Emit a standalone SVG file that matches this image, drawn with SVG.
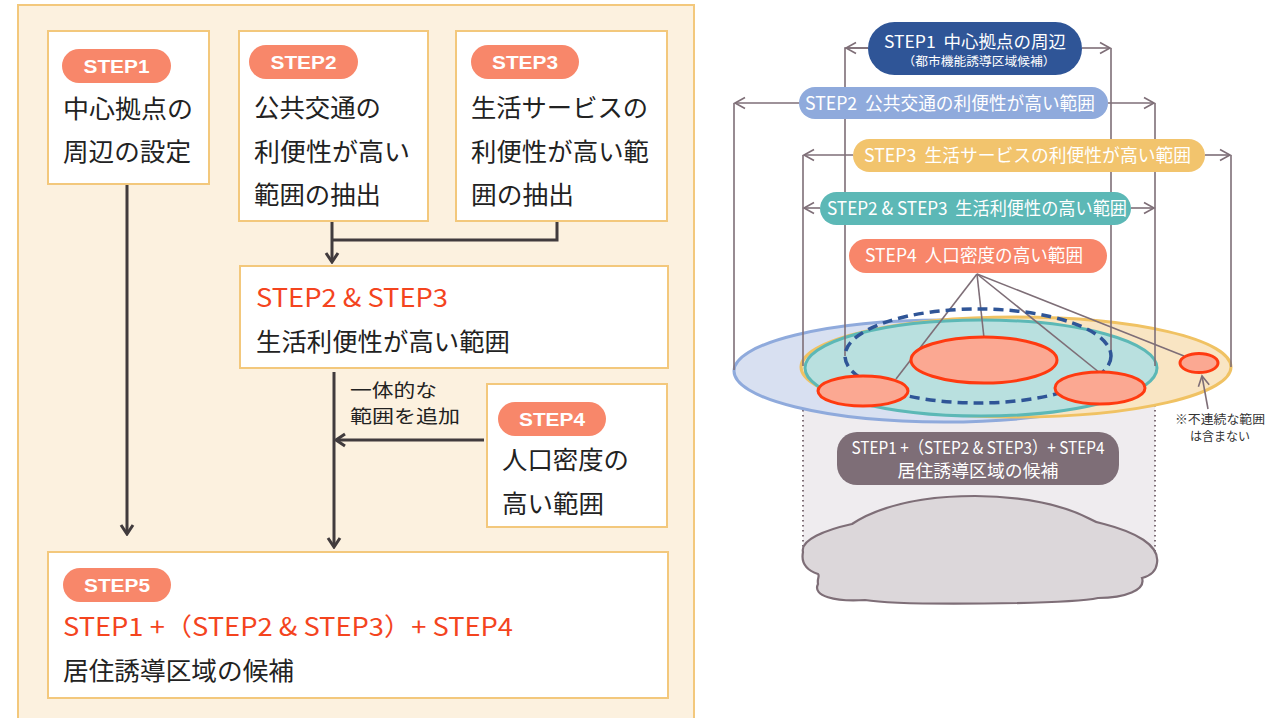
<svg xmlns="http://www.w3.org/2000/svg" width="1280" height="718" viewBox="0 0 1280 718">
  <defs>
    <style>
      .jp { font-family: "Noto Sans CJK JP", "Noto Sans", sans-serif; }
      .box { fill: #ffffff; stroke: #F3C87C; stroke-width: 2; }
      .pill { fill: #F8876A; }
      .pilltxt { font-family: "Liberation Sans", Arial, sans-serif; font-weight: bold; font-size: 19px; fill: #ffffff; text-anchor: middle; }
      .body { font-family: "Noto Sans CJK JP", sans-serif; font-size: 25px; fill: #222222; }
      .red { font-family: "Noto Sans CJK JP", sans-serif; font-size: 25px; fill: #F4441E; }
      .flow { fill: none; stroke: #413B3D; stroke-width: 3; }
      .bracket { fill: none; stroke: #7E6E77; stroke-width: 1.6; }
      .dots { fill: none; stroke: #7E6E77; stroke-width: 2; stroke-dasharray: 1.5 3.5; }
      .ptxt { font-family: "Noto Sans CJK JP", sans-serif; fill: #ffffff; }
      .area { stroke-width: 3; }
      .hot { fill: #FBA892; stroke: #FF3A10; stroke-width: 3; }
    </style>
    <marker id="headL" viewBox="-12 -8 14 16" refX="0" refY="0" markerWidth="14" markerHeight="16" markerUnits="userSpaceOnUse" orient="auto">
      <path d="M-9,-6 L0,0 L-9,6" fill="none" stroke="#413B3D" stroke-width="3"/>
    </marker>
    <marker id="headR" viewBox="-12 -8 14 16" refX="0" refY="0" markerWidth="14" markerHeight="16" markerUnits="userSpaceOnUse" orient="auto">
      <path d="M-10,-5.5 L0,0 L-10,5.5" fill="none" stroke="#7E6E77" stroke-width="1.6"/>
    </marker>
  </defs>

  <rect width="1280" height="718" fill="#ffffff"/>

  <!-- ===== Left: step flow ===== -->
  <rect id="panel" x="18" y="5" width="676" height="720" fill="#FCF1DF" stroke="#F3C87C" stroke-width="2"/>

  <g id="connectors-flow">
    <line class="flow" x1="127" y1="184" x2="127" y2="534" marker-end="url(#headL)"/>
    <polyline class="flow" points="557,221 557,240 332,240"/>
    <line class="flow" x1="332" y1="221" x2="332" y2="262" marker-end="url(#headL)"/>
    <line class="flow" x1="334" y1="372" x2="334" y2="547" marker-end="url(#headL)"/>
    <line class="flow" x1="484" y1="440" x2="336" y2="440" marker-end="url(#headL)"/>
    <text class="jp" x="350" y="397" font-size="18" fill="#222" textLength="87" lengthAdjust="spacingAndGlyphs">一体的な</text>
    <text class="jp" x="350" y="423" font-size="18" fill="#222" textLength="110" lengthAdjust="spacingAndGlyphs">範囲を追加</text>
  </g>

  <g id="step1">
    <rect class="box" x="48" y="31" width="161" height="153"/>
    <rect class="pill" x="62" y="49" width="109" height="34" rx="17"/>
    <text class="pilltxt" x="116.5" y="73" textLength="66" lengthAdjust="spacingAndGlyphs">STEP1</text>
    <text class="body" x="63" y="118" textLength="130" lengthAdjust="spacingAndGlyphs">中心拠点の</text>
    <text class="body" x="63" y="161" textLength="128" lengthAdjust="spacingAndGlyphs">周辺の設定</text>
  </g>

  <g id="step2">
    <rect class="box" x="239" y="31" width="189" height="190"/>
    <rect class="pill" x="249" y="45" width="109" height="34" rx="17"/>
    <text class="pilltxt" x="303.5" y="69" textLength="66" lengthAdjust="spacingAndGlyphs">STEP2</text>
    <text class="body" x="254" y="117" textLength="127" lengthAdjust="spacingAndGlyphs">公共交通の</text>
    <text class="body" x="254" y="161" textLength="156" lengthAdjust="spacingAndGlyphs">利便性が高い</text>
    <text class="body" x="254" y="204" textLength="127" lengthAdjust="spacingAndGlyphs">範囲の抽出</text>
  </g>

  <g id="step3">
    <rect class="box" x="456" y="31" width="211" height="190"/>
    <rect class="pill" x="471" y="45" width="108" height="34" rx="17"/>
    <text class="pilltxt" x="525" y="69" textLength="66" lengthAdjust="spacingAndGlyphs">STEP3</text>
    <text class="body" x="471" y="117" textLength="177" lengthAdjust="spacingAndGlyphs">生活サービスの</text>
    <text class="body" x="471" y="161" textLength="178" lengthAdjust="spacingAndGlyphs">利便性が高い範</text>
    <text class="body" x="471" y="204" textLength="103" lengthAdjust="spacingAndGlyphs">囲の抽出</text>
  </g>

  <g id="step23">
    <rect class="box" x="240" y="266" width="428" height="102"/>
    <text class="red" x="256" y="307" textLength="192" lengthAdjust="spacingAndGlyphs">STEP2 &amp; STEP3</text>
    <text class="body" x="256" y="351" textLength="254" lengthAdjust="spacingAndGlyphs">生活利便性が高い範囲</text>
  </g>

  <g id="step4">
    <rect class="box" x="487" y="384" width="180" height="143"/>
    <rect class="pill" x="498" y="402" width="108" height="34" rx="17"/>
    <text class="pilltxt" x="552" y="426" textLength="66" lengthAdjust="spacingAndGlyphs">STEP4</text>
    <text class="body" x="502" y="469" textLength="127" lengthAdjust="spacingAndGlyphs">人口密度の</text>
    <text class="body" x="502" y="513" textLength="102" lengthAdjust="spacingAndGlyphs">高い範囲</text>
  </g>

  <g id="step5">
    <rect class="box" x="48" y="552" width="620" height="146"/>
    <rect class="pill" x="63" y="568" width="108" height="34" rx="17"/>
    <text class="pilltxt" x="117" y="592" textLength="66" lengthAdjust="spacingAndGlyphs">STEP5</text>
    <text class="red" x="63" y="636" textLength="450" lengthAdjust="spacingAndGlyphs">STEP1 +（STEP2 &amp; STEP3）+ STEP4</text>
    <text class="body" x="63" y="680" textLength="231" lengthAdjust="spacingAndGlyphs">居住誘導区域の候補</text>
  </g>

  <!-- ===== Right: overlap sketch ===== -->
  <g id="column">
    <rect x="803" y="368" width="352" height="195" fill="#EFECEF"/>
    <line class="dots" x1="803" y1="370" x2="803" y2="556"/>
    <line class="dots" x1="1155" y1="370" x2="1155" y2="558"/>
  </g>

  <g id="areas">
    <ellipse cx="944" cy="371" rx="210" ry="51" fill="#D8E0F1" stroke="#8FAADC" class="area"/>
    <ellipse cx="1016" cy="367" rx="215" ry="50" fill="#F9E5C3" stroke="#F0C263" class="area"/>
    <ellipse cx="981" cy="368" rx="176" ry="48" fill="#B9E0DF" stroke="#5CB8B6" class="area"/>
  </g>

  <g id="connectors-range">
    <!-- STEP1 bracket -->
    <polyline class="bracket" points="845,356 845,48 868,48"/>
    <line class="bracket" x1="868" y1="48" x2="846" y2="48" marker-end="url(#headR)"/>
    <line class="bracket" x1="1111" y1="356" x2="1111" y2="48"/>
    <line class="bracket" x1="1082" y1="48" x2="1110" y2="48" marker-end="url(#headR)"/>
    <!-- STEP2 bracket -->
    <line class="bracket" x1="734" y1="370" x2="734" y2="103"/>
    <line class="bracket" x1="799" y1="103" x2="735" y2="103" marker-end="url(#headR)"/>
    <line class="bracket" x1="1155" y1="366" x2="1155" y2="103"/>
    <line class="bracket" x1="1108" y1="103" x2="1154" y2="103" marker-end="url(#headR)"/>
    <!-- STEP3 bracket -->
    <line class="bracket" x1="803" y1="366" x2="803" y2="155"/>
    <line class="bracket" x1="853" y1="155" x2="804" y2="155" marker-end="url(#headR)"/>
    <line class="bracket" x1="1231" y1="367" x2="1231" y2="155"/>
    <line class="bracket" x1="1205" y1="155" x2="1230" y2="155" marker-end="url(#headR)"/>
    <!-- STEP2 & STEP3 bracket -->
    <line class="bracket" x1="820" y1="208" x2="804" y2="208" marker-end="url(#headR)"/>
    <line class="bracket" x1="1131" y1="208" x2="1154" y2="208" marker-end="url(#headR)"/>
    <!-- STEP4 leaders -->
    <line class="bracket" x1="977" y1="274" x2="896" y2="379"/>
    <line class="bracket" x1="977" y1="274" x2="984" y2="338"/>
    <line class="bracket" x1="977" y1="274" x2="1100" y2="373"/>
    <line class="bracket" x1="977" y1="274" x2="1184" y2="356"/>
    <!-- note pointer -->
    <line class="bracket" x1="1208" y1="409" x2="1202" y2="376" marker-end="url(#headR)"/>
  </g>

  <g id="core-dashed">
    <ellipse cx="978" cy="356" rx="133" ry="47" fill="none" stroke="#2F5597" stroke-width="3.5" stroke-dasharray="10 6"/>
  </g>

  <g id="dense-areas">
    <ellipse class="hot" cx="984" cy="360" rx="73" ry="23"/>
    <ellipse class="hot" cx="863" cy="391" rx="45" ry="15"/>
    <ellipse class="hot" cx="1100" cy="388" rx="45" ry="16"/>
    <ellipse class="hot" cx="1199" cy="363" rx="19" ry="9.5"/>
  </g>

  <g id="label-step1">
    <rect x="868" y="22" width="214" height="53" rx="26.5" fill="#2F5597"/>
    <text class="ptxt" x="884" y="48" font-size="17" textLength="182" lengthAdjust="spacingAndGlyphs" xml:space="preserve">STEP1  中心拠点の周辺</text>
    <text class="ptxt" x="979" y="66" font-size="12" text-anchor="middle" textLength="153" lengthAdjust="spacingAndGlyphs">（都市機能誘導区域候補）</text>
  </g>

  <g id="label-step2">
    <rect x="799" y="87" width="309" height="32" rx="16" fill="#8FAADC"/>
    <text class="ptxt" x="805" y="110" font-size="18" textLength="290" lengthAdjust="spacingAndGlyphs" xml:space="preserve">STEP2  公共交通の利便性が高い範囲</text>
  </g>

  <g id="label-step3">
    <rect x="853" y="139" width="352" height="33" rx="16.5" fill="#F2C46D"/>
    <text class="ptxt" x="864" y="162" font-size="18" textLength="327" lengthAdjust="spacingAndGlyphs" xml:space="preserve">STEP3  生活サービスの利便性が高い範囲</text>
  </g>

  <g id="label-step23">
    <rect x="820" y="192" width="311" height="33" rx="16.5" fill="#5CB8B6"/>
    <text class="ptxt" x="827" y="215" font-size="18" textLength="300" lengthAdjust="spacingAndGlyphs" xml:space="preserve">STEP2 &amp; STEP3  生活利便性の高い範囲</text>
  </g>

  <g id="label-step4">
    <rect x="849" y="239" width="258" height="34" rx="17" fill="#F8866A"/>
    <text class="ptxt" x="865" y="262" font-size="18" textLength="218" lengthAdjust="spacingAndGlyphs" xml:space="preserve">STEP4  人口密度の高い範囲</text>
  </g>

  <g id="note">
    <text class="jp" x="1220" y="424" font-size="12" fill="#333" text-anchor="middle" textLength="90" lengthAdjust="spacingAndGlyphs">※不連続な範囲</text>
    <text class="jp" x="1220" y="441" font-size="12" fill="#333" text-anchor="middle" textLength="60" lengthAdjust="spacingAndGlyphs">は含まない</text>
  </g>

  <g id="label-result">
    <rect x="837" y="432" width="282" height="53" rx="20" fill="#7E6E77"/>
    <text class="ptxt" x="978" y="454" font-size="17" text-anchor="middle" textLength="253" lengthAdjust="spacingAndGlyphs">STEP1 +（STEP2 &amp; STEP3）+ STEP4</text>
    <text class="ptxt" x="978" y="477" font-size="17" text-anchor="middle" textLength="161" lengthAdjust="spacingAndGlyphs">居住誘導区域の候補</text>
  </g>

  <g id="ground">
    <path d="M803,552 C800,540 825,530 852,524 C858,520 862,518 866,516 C900,500 940,496 975,496 C1025,496 1065,506 1088,518 C1093,521 1098,523 1104,524 C1135,532 1160,545 1157,563 C1156,572 1150,576 1142,578 C1146,590 1125,598 1098,598 C1070,604 900,606 865,600 C835,602 812,596 818,584 C817,578 820,576 818,574 C806,570 801,562 803,552 Z" fill="#DCD7DA" stroke="#7E6E77" stroke-width="2.2"/>
  </g>
</svg>
